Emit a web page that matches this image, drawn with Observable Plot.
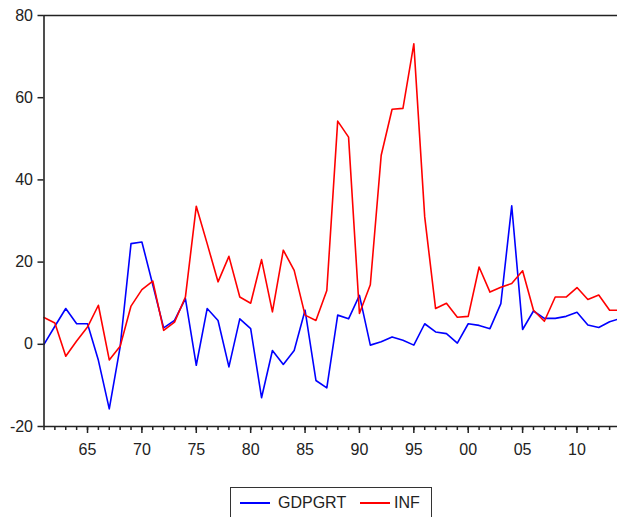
<!DOCTYPE html>
<html>
<head>
<meta charset="utf-8">
<script src="https://cdn.jsdelivr.net/npm/d3@7"></script>
<script src="https://cdn.jsdelivr.net/npm/@observablehq/plot@0.6"></script>
<style>
  html, body { margin: 0; padding: 0; background: #fff; }
  #wrap { position: relative; width: 617px; height: 517px; overflow: hidden; font-family: "Liberation Sans", Arial, sans-serif; }
  #legend { position: absolute; left: 230px; top: 487px; width: 202px; height: 34px; border: 1.5px solid #333; box-sizing: border-box; }
  .sw { position: absolute; top: 14px; width: 30px; height: 2px; }
  .lt { position: absolute; top: 6px; font-size: 16px; color: #222; line-height: 18px; }
</style>
</head>
<body>
<div id="wrap">
  <div id="chart"></div>
  <div id="legend">
    <div class="sw" style="left:9px;background:#0000ff"></div>
    <div class="lt" style="left:47px">GDPGRT</div>
    <div class="sw" style="left:129px;background:#ff0000"></div>
    <div class="lt" style="left:163px">INF</div>
  </div>
</div>
<script>
const years = [1961,1962,1963,1964,1965,1966,1967,1968,1969,1970,
  1971,1972,1973,1974,1975,1976,1977,1978,1979,1980,
  1981,1982,1983,1984,1985,1986,1987,1988,1989,1990,
  1991,1992,1993,1994,1995,1996,1997,1998,1999,2000,
  2001,2002,2003,2004,2005,2006,2007,2008,2009,2010,
  2011,2012,2013,2014];

const gdpgrt = [0.0,4.4,8.7,5.0,5.0,-3.9,-15.7,-0.6,24.5,24.9,
  14.5,4.0,5.8,11.1,-5.1,8.7,5.8,-5.5,6.2,3.8,
  -13.0,-1.5,-4.9,-1.5,8.3,-8.8,-10.6,7.1,6.2,11.9,
  -0.2,0.6,1.8,1.0,-0.2,5.0,3.0,2.6,0.3,5.0,
  4.6,3.8,9.9,33.7,3.6,8.1,6.3,6.3,6.8,7.8,
  4.7,4.1,5.5,6.3];

const inf = [6.5,5.2,-2.9,0.8,4.2,9.5,-3.8,-0.5,9.3,13.3,
  15.4,3.4,5.4,11.5,33.6,24.5,15.2,21.4,11.5,10.0,
  20.6,7.9,22.9,18.0,7.1,5.8,13.1,54.3,50.4,7.5,
  14.5,46.0,57.2,57.4,73.1,31.0,8.7,10.0,6.6,6.8,
  18.8,12.7,13.9,14.8,17.9,8.3,5.6,11.5,11.5,13.8,
  10.9,12.0,8.3,8.3];

const xTickYears = [1965,1970,1975,1980,1985,1990,1995,2000,2005,2010];
const xTickLabels = ["65","70","75","80","85","90","95","00","05","10"];
const yTicks = [-20,0,20,40,60,80];
const yTickLabels = ["-20","0","20","40","60","80"];

const gdpRows = years.map((y,i) => ({year: y, v: gdpgrt[i]}));
const infRows = years.map((y,i) => ({year: y, v: inf[i]}));
const xLab = new Map(xTickYears.map((y,i) => [y, xTickLabels[i]]));
const yLab = new Map(yTicks.map((v,i) => [v, yTickLabels[i]]));

const chart = Plot.plot({
  width: 617,
  height: 480,
  marginLeft: 43.5,
  marginRight: 0,
  marginTop: 15,
  marginBottom: 54,
  x: {domain: [1961, 2014], range: [43.5, 620], label: null},
  y: {domain: [-20, 80], range: [426, 15], label: null},
  style: {fontFamily: "'Liberation Sans', Arial, sans-serif", fontSize: "16px", color: "#222", background: "white"},
  marks: [
    Plot.axisY({ticks: yTicks, tickSize: 6, tickPadding: 5, tickFormat: d => yLab.get(d), strokeWidth: 1.5, fontSize: 16, label: null}),
    Plot.axisX({ticks: years, tickSize: 4, tickFormat: () => "", strokeWidth: 1.5, label: null}),
    Plot.axisX({ticks: xTickYears, tickSize: 7, tickPadding: 10, tickFormat: d => xLab.get(d), strokeWidth: 1.5, fontSize: 16, label: null}),
    Plot.lineY(gdpRows, {x: "year", y: "v", stroke: "#0000ff", strokeWidth: 1.6}),
    Plot.lineY(infRows, {x: "year", y: "v", stroke: "#ff0000", strokeWidth: 1.6}),
    Plot.ruleX([1961], {stroke: "#222", strokeWidth: 1.6}),
    Plot.ruleY([80], {stroke: "#222", strokeWidth: 1.6}),
    Plot.ruleY([-20], {stroke: "#222", strokeWidth: 1.6})
  ]
});
document.getElementById("chart").appendChild(chart);
</script>
</body>
</html>
